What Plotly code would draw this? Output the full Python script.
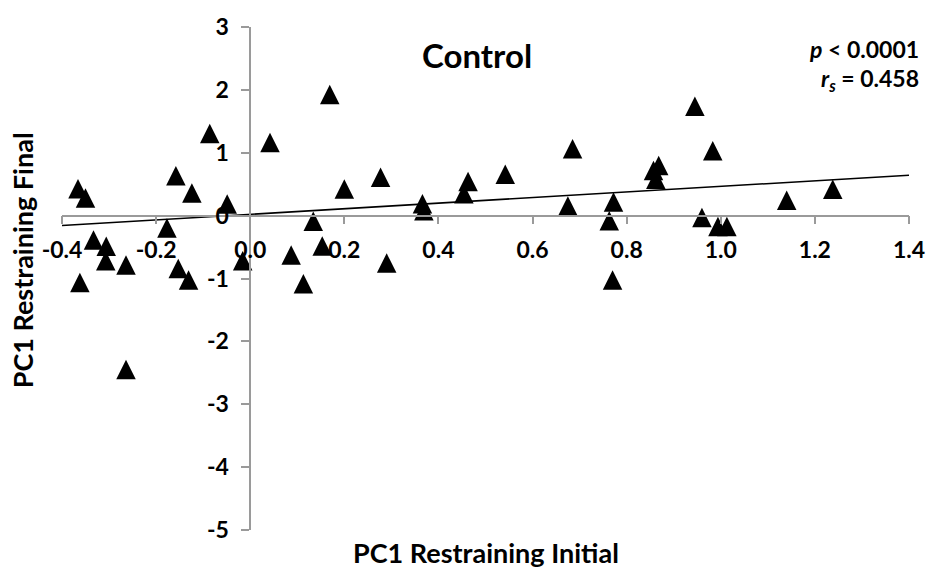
import plotly.graph_objects as go

# ---- data ----
pc1_initial = [
    -0.086, -0.158, -0.124, -0.049, -0.366, -0.350, -0.177, -0.333, -0.306, -0.307,
    -0.264, -0.362, -0.153, -0.131, -0.016, -0.264,
    0.169, 0.042, 0.200, 0.277, 0.366, 0.369, 0.134, 0.153, 0.087, 0.113, 0.290,
    0.463, 0.454, 0.542, 0.685, 0.675, 0.772, 0.763, 0.770,
    0.857, 0.868, 0.862,
    0.945, 0.983, 0.960, 0.994, 1.013, 1.140, 1.238,
]
pc1_final = [
    1.309, 0.635, 0.364, 0.188, 0.428, 0.282, -0.193, -0.384, -0.486, -0.716,
    -0.784, -1.063, -0.839, -1.020, -0.716, -2.445,
    1.930, 1.165, 0.426, 0.611, 0.191, 0.080, -0.089, -0.480, -0.624, -1.080, -0.752,
    0.544, 0.350, 0.661, 1.066, 0.157, 0.219, -0.078, -1.020,
    0.720, 0.800, 0.580,
    1.740, 1.034, -0.026, -0.172, -0.172, 0.246, 0.423,
]
trend_x = [-0.4, 1.4]
trend_y = [-0.157, 0.643]

x_ticks = [-0.4, -0.2, 0.0, 0.2, 0.4, 0.6, 0.8, 1.0, 1.2, 1.4]
x_tick_text = ["-0.4", "-0.2", "0.0", "0.2", "0.4", "0.6", "0.8", "1.0", "1.2", "1.4"]
y_ticks = [-5, -4, -3, -2, -1, 0, 1, 2, 3]
y_tick_text = ["-5", "-4", "-3", "-2", "-1", "0", "1", "2", "3"]

title_text = "Control"
stats_p = "<i>p</i> < 0.0001"
stats_r = "<i>r<sub>s</sub></i> = 0.458"
x_title = "PC1 Restraining Initial"
y_title = "PC1 Restraining Final"

# ---- layout geometry (pixels) ----
W, H = 937, 571
ML, MR, MT, MB = 62, 22, 19.5, 41
X_RANGE = [-0.4, 1.4]
Y_RANGE = [-5, 3]
plot_w = W - ML - MR
plot_h = H - MT - MB
MARKER = 19.5
# the arrow-up symbol has its apex on the point; offset its (hidden) axis
# so each triangle is centred on its value
shift = (MARKER / 2) / plot_h * (Y_RANGE[1] - Y_RANGE[0])

FONT = "Lato"
AXIS_COLOR = "#9a9a9a"


def px_x(px):
    return (px - ML) / plot_w


def px_y(py):
    return 1 - (py - MT) / plot_h


fig = go.Figure()
fig.add_trace(go.Scatter(
    x=trend_x, y=trend_y, mode="lines",
    line=dict(color="black", width=1.6),
    xaxis="x", yaxis="y", hoverinfo="skip", showlegend=False,
))
fig.add_trace(go.Scatter(
    x=pc1_initial, y=pc1_final, mode="markers",
    marker=dict(symbol="arrow-up", size=MARKER, color="black",
                line=dict(width=0)),
    xaxis="x", yaxis="y2", showlegend=False,
))

x_pos = (0 - X_RANGE[0]) / (X_RANGE[1] - X_RANGE[0])
y_pos = (0 - Y_RANGE[0]) / (Y_RANGE[1] - Y_RANGE[0])

tickfont = dict(family=FONT, size=23, color="black", weight="bold")


def bold(size):
    return dict(family=FONT, size=size, color="black", weight="bold")


fig.update_layout(
    width=W, height=H,
    margin=dict(l=ML, r=MR, t=MT, b=MB, pad=0),
    paper_bgcolor="white", plot_bgcolor="white",
    xaxis=dict(
        range=X_RANGE, domain=[0, 1], anchor="free", position=y_pos,
        tickvals=x_ticks, ticktext=x_tick_text,
        showgrid=False, zeroline=False,
        showline=True, linecolor=AXIS_COLOR, linewidth=1.5,
        ticks="outside", ticklen=8, tickwidth=1.5, tickcolor=AXIS_COLOR,
        tickfont=tickfont, ticklabelstandoff=6,
    ),
    yaxis=dict(
        range=Y_RANGE, domain=[0, 1], anchor="free", position=x_pos,
        tickvals=y_ticks, ticktext=y_tick_text,
        showgrid=False, zeroline=False,
        showline=True, linecolor=AXIS_COLOR, linewidth=1.5,
        ticks="outside", ticklen=8, tickwidth=1.5, tickcolor=AXIS_COLOR,
        tickfont=tickfont, ticklabelstandoff=8,
    ),
    yaxis2=dict(
        range=[Y_RANGE[0] - shift, Y_RANGE[1] - shift],
        overlaying="y", visible=False, anchor="x",
    ),
    annotations=[
        dict(text=title_text, x=px_x(480), y=px_y(48), xref="paper", yref="paper",
             xanchor="center", yanchor="middle", showarrow=False, font=bold(33)),
        dict(text=stats_p, x=px_x(927), y=px_y(42), xref="paper", yref="paper",
             xanchor="right", yanchor="middle", showarrow=False, font=bold(23)),
        dict(text=stats_r, x=px_x(927), y=px_y(73), xref="paper", yref="paper",
             xanchor="right", yanchor="middle", showarrow=False, font=bold(23)),
        dict(text=x_title, x=px_x(488.5), y=px_y(553), xref="paper", yref="paper",
             xanchor="center", yanchor="middle", showarrow=False, font=bold(27)),
        dict(text=y_title, x=px_x(22), y=px_y(256), xref="paper", yref="paper",
             xanchor="center", yanchor="middle", textangle=-90,
             showarrow=False, font=bold(27)),
    ],
)

fig.write_html("out.html", config={"displayModeBar": False},
               post_script="document.body.style.margin='0';")
